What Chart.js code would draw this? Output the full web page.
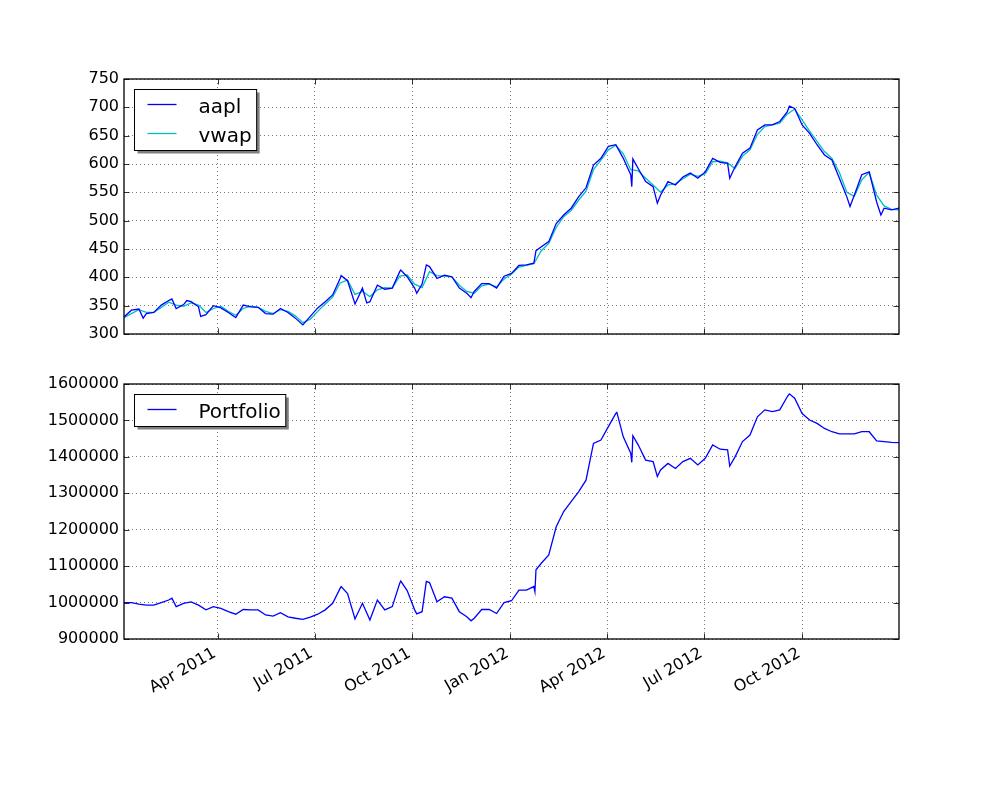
<!DOCTYPE html>
<html><head><meta charset="utf-8">
<script src="https://cdn.jsdelivr.net/npm/chart.js@4/dist/chart.umd.min.js"></script>
<style>
body{margin:0;background:#fff;width:1000px;height:800px;overflow:hidden;position:relative}
canvas{position:absolute;left:0}
</style></head>
<body>
<canvas id="c1" width="1000" height="360" style="top:0px"></canvas>
<canvas id="c2" width="1000" height="440" style="top:360px"></canvas>
<script>
// ---------- data (weekly samples) ----------
const dates = [
'2011-01-03','2011-01-10','2011-01-17','2011-01-24','2011-01-31','2011-02-07','2011-02-14','2011-02-21','2011-02-28',
'2011-03-07','2011-03-14','2011-03-21','2011-03-28','2011-04-04','2011-04-11','2011-04-18','2011-04-25',
'2011-05-02','2011-05-09','2011-05-16','2011-05-23','2011-05-30','2011-06-06','2011-06-13','2011-06-20','2011-06-27',
'2011-07-04','2011-07-11','2011-07-18','2011-07-25','2011-08-01','2011-08-08','2011-08-15','2011-08-22','2011-08-29',
'2011-09-05','2011-09-12','2011-09-19','2011-09-26','2011-10-03','2011-10-10','2011-10-17','2011-10-24','2011-10-31',
'2011-11-07','2011-11-14','2011-11-21','2011-11-28','2011-12-05','2011-12-12','2011-12-19','2011-12-26',
'2012-01-02','2012-01-09','2012-01-16','2012-01-23','2012-01-30','2012-02-06','2012-02-13','2012-02-20','2012-02-27',
'2012-03-05','2012-03-12','2012-03-19','2012-03-26','2012-04-02','2012-04-09','2012-04-16','2012-04-23','2012-04-30',
'2012-05-07','2012-05-14','2012-05-21','2012-05-28','2012-06-04','2012-06-11','2012-06-18','2012-06-25',
'2012-07-02','2012-07-09','2012-07-16','2012-07-23','2012-07-30','2012-08-06','2012-08-13','2012-08-20','2012-08-27',
'2012-09-03','2012-09-10','2012-09-17','2012-09-24','2012-10-01','2012-10-08','2012-10-15','2012-10-22','2012-10-29',
'2012-11-05','2012-11-12','2012-11-19','2012-11-26','2012-12-03','2012-12-10','2012-12-17','2012-12-24','2012-12-31'];

const aapl = [330,342,344,336,338,351,359,345,352,357,348,334,350,346,338,329,351,348,347,336,335,345,338,328,316,331,
346,357,369,398,394,353,381,357,386,379,381,410,401,381,388,419,398,404,401,381,372,375,389,389,381,402,
407,421,422,425,454,463,495,510,522,542,558,598,610,631,634,610,581,592,569,560,545,569,563,577,584,575,
586,610,603,601,595,619,628,660,669,669,675,692,698,669,654,634,616,607,575,542,545,581,586,533,522,519,522];

// extra daily extremes of aapl
const aaplExtraDates = ['2011-01-21','2011-02-17','2011-03-03','2011-03-16','2011-07-26','2011-08-19','2011-09-20',
'2011-10-05','2011-10-14','2011-11-25','2012-01-25','2012-04-24','2012-04-25','2012-05-18','2012-07-25',
'2012-09-19','2012-11-15','2012-12-14'];
const aaplExtra = [328,362,359,331,403,355,413,372,422,364,447,560,609,531,575,702,525,510];

const vwap = [329,336,343,338,338,347,356,351,349,355,351,338,345,349,340,333,345,349,347,340,336,343,340,332,320,326,
340,353,365,390,395,370,375,366,378,382,381,402,404,388,382,410,403,402,401,386,375,372,385,388,383,397,
406,418,421,424,447,460,488,507,518,536,552,590,607,625,633,618,590,588,575,563,550,563,565,574,582,578,
583,604,605,602,592,614,625,652,666,669,672,688,697,678,658,640,622,610,585,550,543,572,585,545,526,520,519];

const portfolio = [1000000,1000000,996000,993000,993000,1000000,1007000,989000,998000,1002000,993000,980000,989000,
984000,975000,968000,981000,980000,980000,966000,963000,972000,961000,957000,954000,960000,
968000,980000,998000,1039000,1025000,955000,998000,952000,1007000,980000,989000,1053000,1033000,980000,
975000,1055000,1002000,1016000,1012000,975000,961000,957000,981000,981000,970000,1000000,
1005000,1034000,1034000,1044000,1108000,1131000,1208000,1250000,1277000,1304000,1336000,1437000,1446000,
1483000,1519000,1455000,1410000,1433000,1391000,1387000,1364000,1382000,1368000,1387000,1396000,1378000,
1396000,1433000,1421000,1419000,1400000,1442000,1460000,1510000,1529000,1524000,1529000,1565000,1561000,
1519000,1501000,1492000,1478000,1469000,1463000,1463000,1463000,1469000,1469000,1444000,1442000,1440000,1439000];

// extra daily extremes of the portfolio
const portExtraDates = ['2011-02-17','2011-07-26','2011-09-20','2011-10-05','2011-10-14','2011-11-25',
'2012-01-24','2012-01-25','2012-04-10','2012-04-24','2012-04-25','2012-05-18','2012-07-25','2012-09-19'];
const portExtra = [1012000,1044000,1059000,969000,1058000,950000,1030000,1090000,1522000,1385000,1458000,
1346000,1375000,1573000];

const tickDates = ['2011-04-01','2011-07-01','2011-10-01','2012-01-01','2012-04-01','2012-07-01','2012-10-01'];
const tickLabels = ['Apr 2011','Jul 2011','Oct 2011','Jan 2012','Apr 2012','Jul 2012','Oct 2012'];
const xStart = '2011-01-03', xEnd = '2012-12-31';
const priceTicks = [300,350,400,450,500,550,600,650,700,750];
const portTicks = [900000,1000000,1100000,1200000,1300000,1400000,1500000,1600000];

// ---------- helpers ----------
const dayNum = s => { const [y,m,d] = s.split('-').map(Number); return Date.UTC(y,m-1,d)/86400000; };
const pts = (ds, vs, eds=[], evs=[]) => {
  const p = ds.map((d,i)=>({x:dayNum(d), y:vs[i]})).concat(eds.map((d,i)=>({x:dayNum(d), y:evs[i]})));
  return p.sort((a,b)=>a.x-b.x);
};
const FONT = "'DejaVu Sans', sans-serif";

const mplPlugin = {
  id:'mpl',
  afterDraw(chart){
    const {ctx, chartArea:a, scales} = chart;
    ctx.save();
    const line=(x1,y1,x2,y2)=>{ctx.beginPath();ctx.moveTo(x1,y1);ctx.lineTo(x2,y2);ctx.stroke();};
    ctx.strokeStyle='#000'; ctx.lineWidth=0.8;
    const L=5.5;
    scales.x.ticks.forEach(t=>{const p=Math.round(scales.x.getPixelForValue(t.value))+0.5;
      line(p,a.bottom,p,a.bottom-L); line(p,a.top,p,a.top+L);});
    scales.y.ticks.forEach(t=>{const p=Math.round(scales.y.getPixelForValue(t.value))+0.5;
      line(a.left,p,a.left+L,p); line(a.right,p,a.right-L,p);});
    ctx.lineWidth=1.3;
    ctx.strokeRect(a.left,a.top,a.right-a.left,a.bottom-a.top);
    // legend
    const ds = chart.data.datasets;
    ctx.font = "20px "+FONT;
    let tw = 0; ds.forEach(d=>{tw=Math.max(tw,ctx.measureText(d.label).width);});
    const bx = a.left+10.5, by = a.top+10.5;
    const bw = 64+tw+5, bh = 23+29*(ds.length-1)+9;
    ctx.fillStyle='#808080'; ctx.fillRect(bx+3,by+3,bw,bh);
    ctx.fillStyle='#fff'; ctx.fillRect(bx,by,bw,bh);
    ctx.strokeStyle='#000'; ctx.lineWidth=1; ctx.strokeRect(bx,by,bw,bh);
    ds.forEach((d,i)=>{
      const base = by+23+29*i;
      ctx.strokeStyle=d.borderColor; ctx.lineWidth=1.3;
      line(bx+13,base-8,bx+42,base-8);
      ctx.fillStyle='#000'; ctx.textBaseline='alphabetic'; ctx.textAlign='left';
      ctx.fillText(d.label,bx+64,base);
    });
    ctx.restore();
  }
};

function makeChart(id, datasets, yTicks, showX, pad, xHeight){
  return new Chart(document.getElementById(id), {
    type:'line',
    data:{datasets},
    options:{
      responsive:false, animation:false, devicePixelRatio:1,
      layout:{padding:pad},
      plugins:{legend:{display:false}, tooltip:{enabled:false}},
      elements:{point:{radius:0}, line:{tension:0, borderWidth:1.3}},
      scales:{
        x:{type:'linear', min:dayNum(xStart), max:dayNum(xEnd),
          afterBuildTicks:s=>{s.ticks = tickDates.map(d=>({value:dayNum(d)}));},
          afterFit:s=>{s.height = xHeight;},
          grid:{color:'rgba(0,0,0,0.75)', lineWidth:0.7, drawTicks:false},
          border:{display:false, dash:[1,3]},
          ticks:{display:showX, autoSkip:false, minRotation:30, maxRotation:30, padding:5, labelOffset:-3,
            color:'#000', font:{family:FONT, size:16},
            callback:(v,i)=>tickLabels[i]}},
        y:{type:'linear', min:yTicks[0], max:yTicks[yTicks.length-1],
          afterBuildTicks:s=>{s.ticks = yTicks.map(v=>({value:v}));},
          afterFit:s=>{s.width = 124;},
          grid:{color:'rgba(0,0,0,0.75)', lineWidth:0.7, drawTicks:false},
          border:{display:false, dash:[1,3]},
          ticks:{padding:5, color:'#000', font:{family:FONT, size:16}, callback:v=>String(v)}}
      }
    },
    plugins:[mplPlugin]
  });
}

makeChart('c1', [
  {label:'aapl', data:pts(dates, aapl, aaplExtraDates, aaplExtra), borderColor:'#0000ff'},
  {label:'vwap', data:pts(dates, vwap), borderColor:'#00bfbf'}
], priceTicks, false, {left:0,right:101,top:79,bottom:0}, 26);

makeChart('c2', [
  {label:'Portfolio', data:pts(dates, portfolio, portExtraDates, portExtra), borderColor:'#0000ff'}
], portTicks, true, {left:0,right:101,top:24,bottom:0}, 161);
</script>
</body></html>
